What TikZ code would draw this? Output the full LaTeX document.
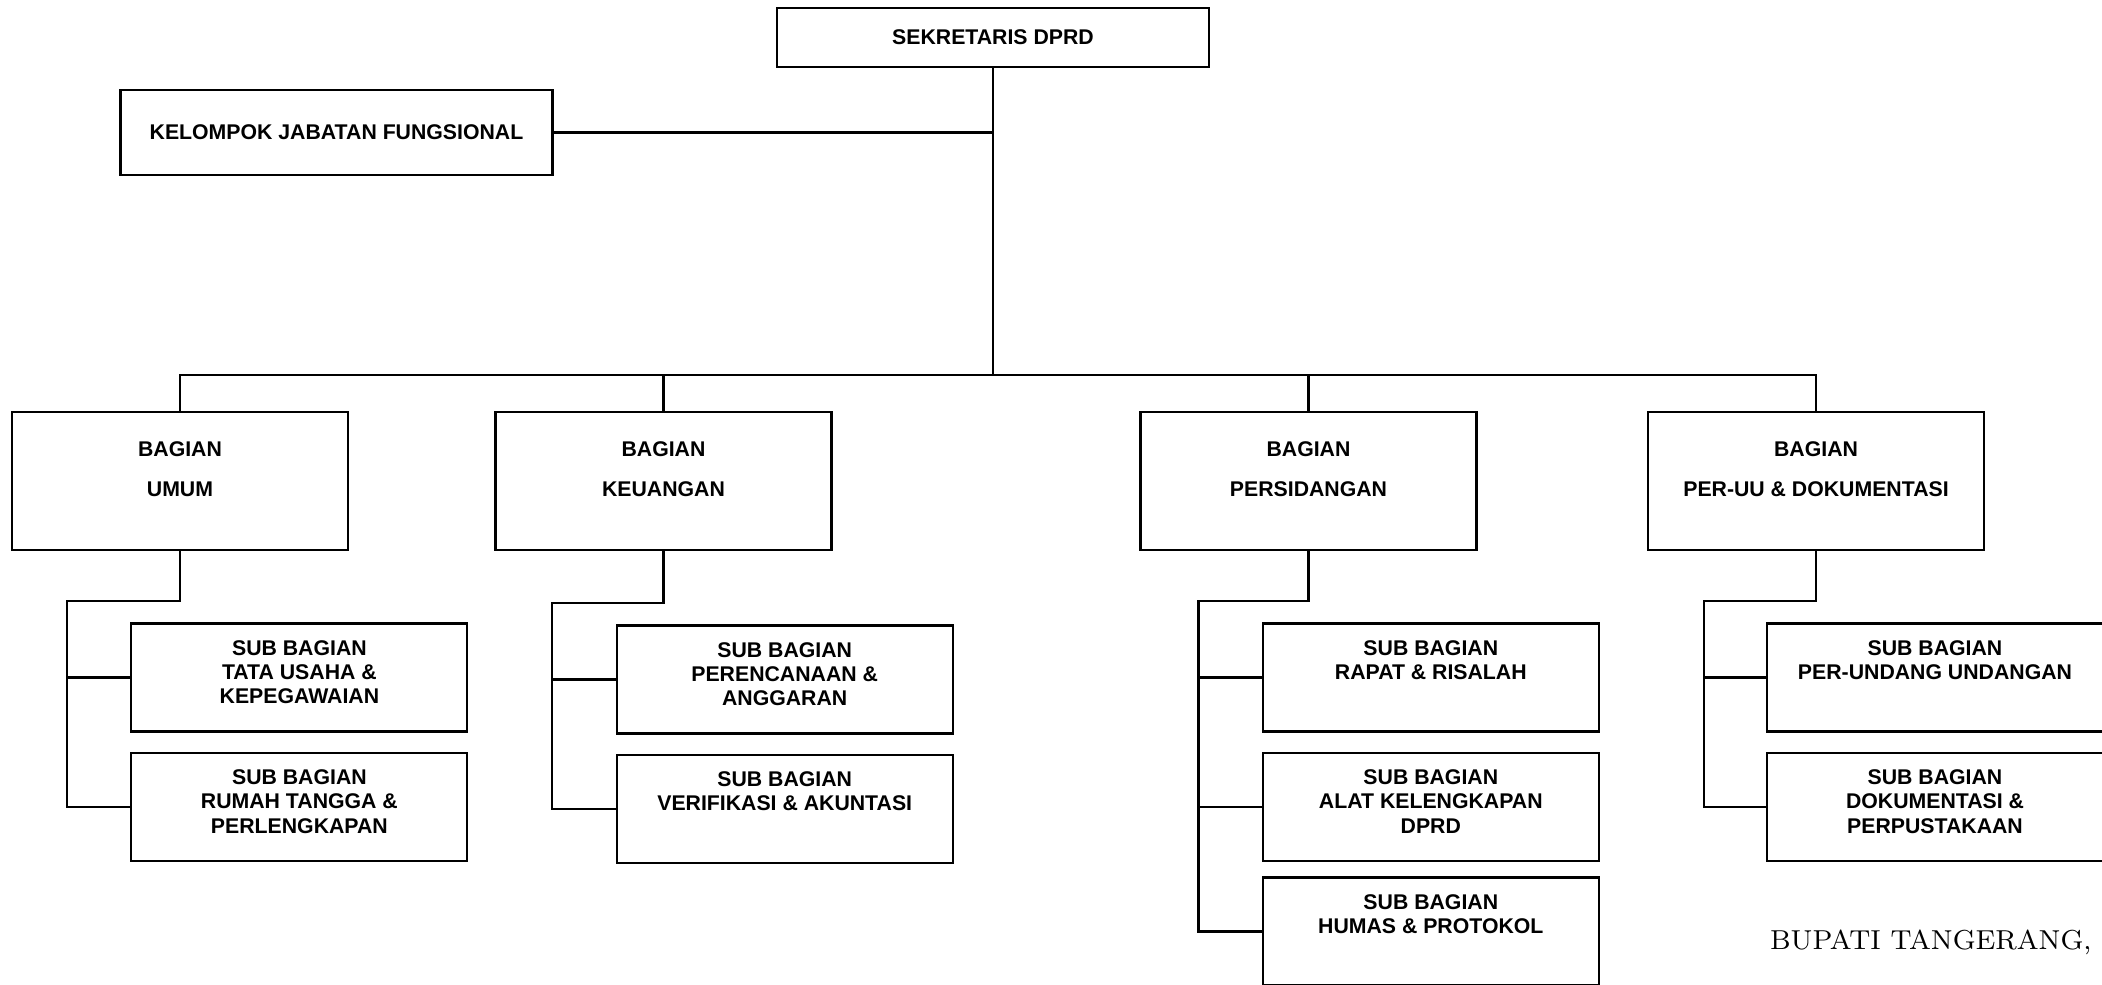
\documentclass[tikz,border=0pt]{standalone}
\usepackage{fontspec}
\newfontfamily\arialfont{Liberation Sans}
\usetikzlibrary{positioning}
\newcommand{\bagtext}[1]{\parbox[c][1.38cm][t]{3.36cm}{\centering\rule{0pt}{0.45cm}BAGIAN\\[0.16cm]#1}}
\newcommand{\subtext}[1]{\parbox[c][1.08cm][t]{3.36cm}{\centering\rule{0pt}{0.32cm}SUB BAGIAN\\#1}}

\begin{document}
\begin{tikzpicture}[line width=0.6pt,
  box/.style={draw,inner sep=0pt,font=\arialfont\bfseries\fontsize{6.05pt}{6.83pt}\selectfont}]
\useasboundingbox (0,0) rectangle (21.02,9.85);
% pimpinan
\node[box,minimum width=4.32cm,minimum height=0.59cm] (sek) at (9.93,9.475) {SEKRETARIS DPRD};
\node[box,minimum width=4.32cm,minimum height=0.85cm] (kel) at (3.365,8.525) {KELOMPOK JABATAN FUNGSIONAL};
% bagian
\node[box] (umum) at (1.80,5.04) {\bagtext{UMUM}};
\node[box] (keu) at (6.635,5.04) {\bagtext{KEUANGAN}};
\node[box] (pers) at (13.085,5.04) {\bagtext{PERSIDANGAN}};
\node[box] (peruu) at (18.16,5.04) {\bagtext{PER-UU \& DOKUMENTASI}};
% sub bagian
\node[box] (umum1) at (2.994,3.075) {\subtext{TATA USAHA \&\\KEPEGAWAIAN}};
\node[box] (umum2) at (2.994,1.78) {\subtext{RUMAH TANGGA \&\\PERLENGKAPAN}};
\node[box] (keu1) at (7.847,3.055) {\subtext{PERENCANAAN \&\\ANGGARAN}};
\node[box] (keu2) at (7.847,1.76) {\subtext{VERIFIKASI \& AKUNTASI}};
\node[box] (pers1) at (14.308,3.075) {\subtext{RAPAT \& RISALAH}};
\node[box] (pers2) at (14.308,1.78) {\subtext{ALAT KELENGKAPAN\\DPRD}};
\node[box] (pers3) at (14.308,0.535) {\subtext{HUMAS \& PROTOKOL}};
\node[box] (peruu1) at (19.35,3.075) {\subtext{PER-UNDANG UNDANGAN}};
\node[box] (peruu2) at (19.35,1.78) {\subtext{DOKUMENTASI \&\\PERPUSTAKAAN}};
% garis komando
\coordinate (bus) at (9.93,6.10);
\draw (sek.south) -- (bus);
\draw (kel.east) -- (kel.east -| bus);
\draw (umum.north) |- (bus) -| (peruu.north);
\draw (keu.north) -- (keu.north |- bus);
\draw (pers.north) -- (pers.north |- bus);
\coordinate (umumel) at (0.67,3.84);
\draw (umum.south) |- (umumel) |- (umum2.west);
\draw (umumel |- umum1.west) -- (umum1.west);
\coordinate (keuel) at (5.52,3.82);
\draw (keu.south) |- (keuel) |- (keu2.west);
\draw (keuel |- keu1.west) -- (keu1.west);
\coordinate (persel) at (11.985,3.84);
\draw (pers.south) |- (persel) |- (pers3.west);
\draw (persel |- pers1.west) -- (pers1.west);
\draw (persel |- pers2.west) -- (pers2.west);
\coordinate (peruuel) at (17.04,3.84);
\draw (peruu.south) |- (peruuel) |- (peruu2.west);
\draw (peruuel |- peruu1.west) -- (peruu1.west);
\node[anchor=base west,inner sep=0pt,font=\fontsize{7.8pt}{9pt}\selectfont] (bupati) at (17.69,0.35) {BUPATI TANGERANG,};
\end{tikzpicture}
\end{document}
